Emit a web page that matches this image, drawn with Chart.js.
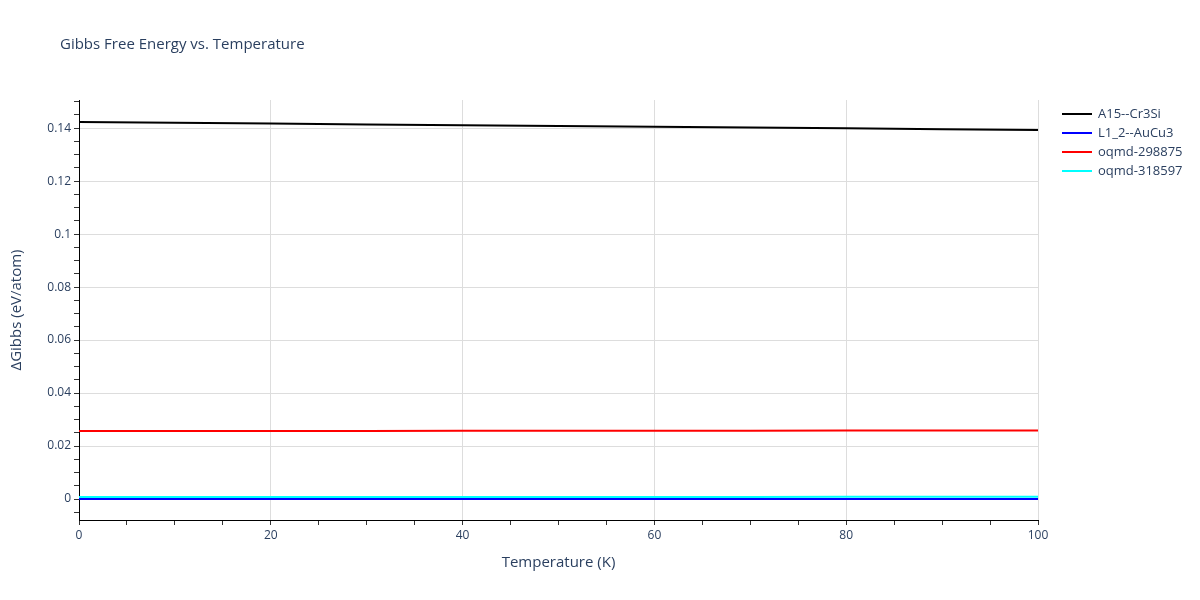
<!DOCTYPE html>
<html>
<head>
<meta charset="utf-8">
<script src="https://cdn.jsdelivr.net/npm/chart.js@4/dist/chart.umd.min.js"></script>
<style>
  html, body { margin: 0; padding: 0; background: #fff; }
  #wrap { width: 1200px; height: 600px; }
</style>
</head>
<body>
<div id="wrap"><canvas id="gibbs"></canvas></div>
<script>
// data
const temps = [0, 10, 20, 30, 40, 50, 60, 70, 80, 90, 100];
const a15Cr3Si = [0.1423, 0.1420, 0.1417, 0.1414, 0.1411, 0.1408, 0.1405, 0.1402, 0.1399, 0.1396, 0.1393];
const l12AuCu3 = [0, 0, 0, 0, 0, 0, 0, 0, 0, 0, 0];
const oqmd298875 = [0.0257, 0.0257, 0.0257, 0.0257, 0.0258, 0.0258, 0.0258, 0.0258, 0.0259, 0.0259, 0.0259];
const oqmd318597 = [0.0008, 0.0008, 0.0008, 0.0008, 0.0008, 0.0008, 0.0008, 0.0008, 0.0009, 0.0009, 0.0009];
const seriesNames = ['A15--Cr3Si', 'L1_2--AuCu3', 'oqmd-298875', 'oqmd-318597'];
const seriesColors = ['#000000', '#0000ff', '#ff0000', '#00ffff'];
const yMajorTicks = [0, 0.02, 0.04, 0.06, 0.08, 0.1, 0.12, 0.14];
const xMajorTicks = [0, 20, 40, 60, 80, 100];

const FONT = '"Open Sans", "DejaVu Sans", Arial, sans-serif';
const TXT = '#2a3f5f';

function pts(ys) {
    return temps.map((t, i) => ({ x: t, y: ys[i] }));
}

const allSeries = [a15Cr3Si, l12AuCu3, oqmd298875, oqmd318597];

// title, axis titles and legend drawn by hand
const decorPlugin = {
    id: 'decor',
    afterDraw(chart) {
        const ctx = chart.ctx;
        const area = chart.chartArea;
        ctx.save();
        ctx.fillStyle = TXT;
        ctx.textBaseline = 'middle';
        ctx.font = '15px ' + FONT;
        ctx.textAlign = 'left';
        ctx.fillText('Gibbs Free Energy vs. Temperature', 60, 45);

        ctx.textAlign = 'center';
        ctx.fillText('Temperature (K)', (area.left + area.right) / 2, 563);

        ctx.save();
        ctx.translate(17, (area.top + area.bottom) / 2);
        ctx.rotate(-Math.PI / 2);
        ctx.fillText('\u0394Gibbs (eV/atom)', 0, 0);
        ctx.restore();

        ctx.font = '13px ' + FONT;
        ctx.textAlign = 'left';
        seriesNames.forEach((name, i) => {
            const y = 114 + i * 19;
            ctx.strokeStyle = seriesColors[i];
            ctx.lineWidth = 2;
            ctx.beginPath();
            ctx.moveTo(1062, y);
            ctx.lineTo(1092, y);
            ctx.stroke();
            ctx.fillStyle = TXT;
            ctx.fillText(name, 1098, y);
        });
        ctx.restore();
    }
};

const isMajorY = v => yMajorTicks.some(m => Math.abs(m - v) < 1e-9);
const isMajorX = v => xMajorTicks.some(m => Math.abs(m - v) < 1e-9);

new Chart(document.getElementById('gibbs'), {
    type: 'line',
    data: {
        datasets: allSeries.map((ys, i) => ({
            label: seriesNames[i],
            data: pts(ys),
            borderColor: seriesColors[i],
            backgroundColor: seriesColors[i],
            borderWidth: 2,
            pointRadius: 0,
            fill: false,
            tension: 0
        }))
    },
    options: {
        responsive: true,
        maintainAspectRatio: false,
        animation: false,
        layout: { padding: { top: 100, right: 162, bottom: 0, left: 0 } },
        plugins: {
            legend: { display: false },
            title: { display: false },
            tooltip: { enabled: false }
        },
        scales: {
            x: {
                type: 'linear',
                min: 0,
                max: 100,
                afterBuildTicks(scale) {
                    const t = [];
                    for (let v = 0; v <= 100; v += 5) t.push({ value: v });
                    scale.ticks = t;
                },
                afterFit(scale) { scale.height = 80; },
                ticks: {
                    autoSkip: false,
                    maxRotation: 0,
                    color: TXT,
                    font: { size: 12, family: FONT },
                    padding: 3,
                    callback: v => isMajorX(v) ? String(v) : ''
                },
                grid: {
                    color: ctx => isMajorX(ctx.tick.value) && ctx.tick.value !== 0 ? '#dddddd' : 'rgba(0,0,0,0)',
                    tickColor: '#333',
                    tickLength: 5,
                    drawTicks: true
                },
                border: { display: true, color: '#000', width: 1 }
            },
            y: {
                type: 'linear',
                min: -0.0079,
                max: 0.1506,
                afterBuildTicks(scale) {
                    const t = [];
                    for (let k = -1; k <= 30; k++) t.push({ value: k * 0.005 });
                    scale.ticks = t;
                },
                afterFit(scale) { scale.width = 79; },
                ticks: {
                    autoSkip: false,
                    color: TXT,
                    font: { size: 12, family: FONT },
                    padding: 3,
                    callback: v => isMajorY(v) ? String(parseFloat(v.toFixed(2))) : ''
                },
                grid: {
                    color: ctx => isMajorY(ctx.tick.value) ? '#dddddd' : 'rgba(0,0,0,0)',
                    tickColor: '#333',
                    tickLength: 5,
                    drawTicks: true
                },
                border: { display: true, color: '#000', width: 1 }
            }
        }
    },
    plugins: [decorPlugin]
});
</script>
</body>
</html>
